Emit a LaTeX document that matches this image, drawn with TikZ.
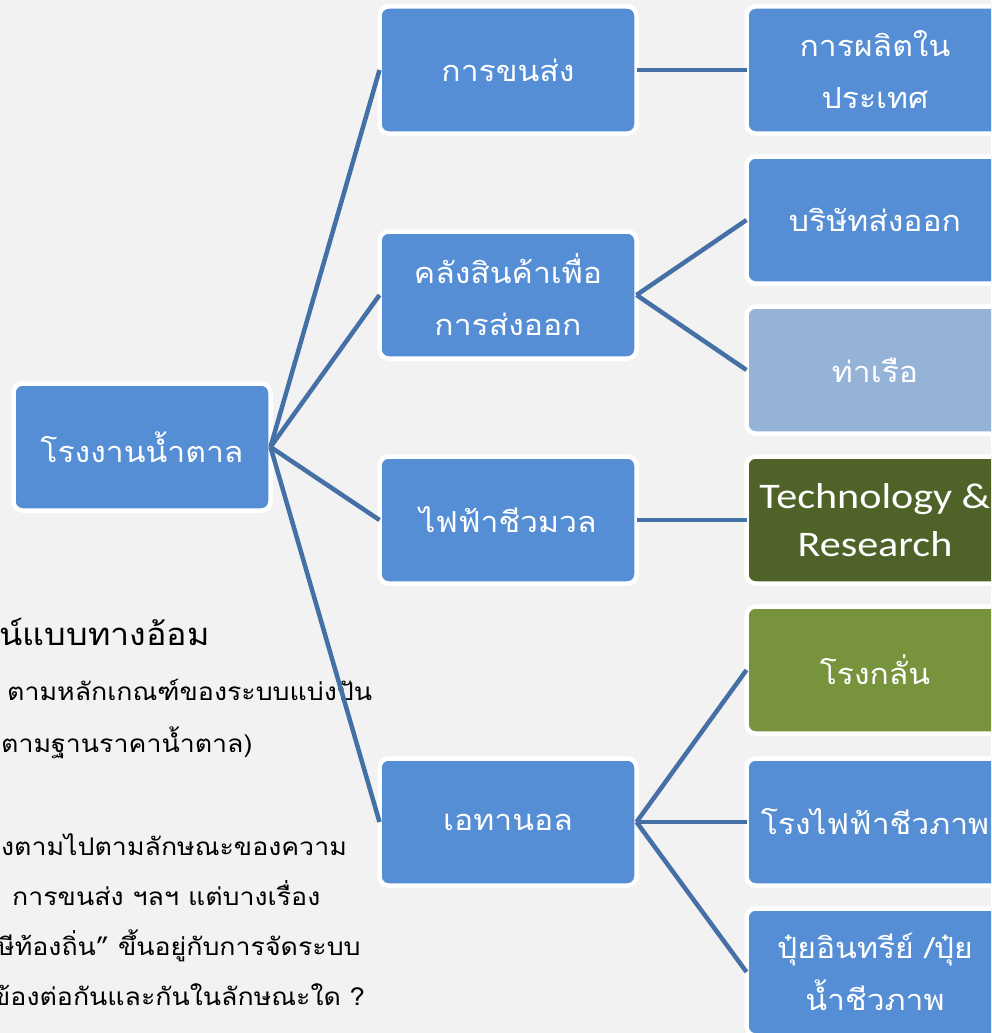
\documentclass[tikz,border=0pt]{standalone}
\usepackage{fontspec}
\setmainfont{Carlito}
\newfontfamily\thaifont[Script=Thai, FakeStretch=1.1]{Loma}
\newfontfamily\latinfont[FakeStretch=1.17]{Carlito}
\definecolor{fondo}{HTML}{F2F2F2}
\definecolor{azul}{HTML}{558ED5}
\definecolor{azulclaro}{HTML}{95B3D7}
\definecolor{verdeosc}{HTML}{4F6228}
\definecolor{oliva}{HTML}{77933C}
\definecolor{linea}{HTML}{4470A6}

\begin{document}
\begin{tikzpicture}[x=1pt, y=-1pt,
    bloc/.style={fill=azul, draw=white, line width=4.5pt,
        rounded corners=9pt,
        minimum width=257pt, minimum height=127pt,
        text=white, font=\thaifont\fontsize{29}{52}\selectfont, align=center,
        outer sep=0pt},
    nota/.style={text=black, anchor=base west, inner sep=0pt,
        font=\thaifont\fontsize{24.3}{30}\selectfont},
    rama/.style={draw=linea, line width=4.5pt}
    ]
    \useasboundingbox (0,0) rectangle (991,1033);
    \clip (0,0) rectangle (991,1033);
    \fill[fondo] (0,0) rectangle (991,1033);

    % texto de fondo
    \node[nota, anchor=base east, font=\thaifont\fontsize{31}{36}\selectfont] (t1) at (210,645) {น์แบบทางอ้อม};
    \node[nota] (t2) at (7,700) {ตามหลักเกณฑ์ของระบบแบ่งปัน};
    \node[nota] (t3) at (1,752) {ตามฐานราคาน้ำตาล)};
    \node[nota] (t4) at (1,855) {งตามไปตามลักษณะของความ};
    \node[nota] (t5) at (12,905) {การขนส่ง ฯลฯ แต่บางเรื่อง};
    \node[nota] (t6) at (-3,955) {ษีท้องถิ่น” ขึ้นอยู่กับการจัดระบบ};
    \node[nota] (t7) at (-8,1005) {ข้องต่อกันและกันในลักษณะใด ?};

    \node[bloc] (fabrica) at (142,447) {โรงงานน้ำตาล};

    \node[bloc] (transporte) at (508,70) {การขนส่ง};
    \node[bloc] (almacen) at (508,295) {คลังสินค้าเพื่อ\\การส่งออก};
    \node[bloc] (biomasa) at (508,520) {ไฟฟ้าชีวมวล};
    \node[bloc] (etanol) at (508,822) {เอทานอล};

    \node[bloc] (produccion) at (875,70) {การผลิตใน\\ประเทศ};
    \node[bloc] (exportadora) at (875,220) {บริษัทส่งออก};
    \node[bloc, fill=azulclaro] (puerto) at (875,370) {ท่าเรือ};
    \node[bloc, fill=verdeosc, font=\latinfont\fontsize{36}{48}\selectfont] (tecno) at (875,520) {Technology \&\\Research};
    \node[bloc, fill=oliva] (destileria) at (875,670) {โรงกลั่น};
    \node[bloc] (biogas) at (875,822) {โรงไฟฟ้าชีวภาพ};
    \node[bloc] (abono) at (875,972) {ปุ๋ยอินทรีย์ /ปุ๋ย\\น้ำชีวภาพ};

    \foreach \n in {transporte, almacen, biomasa, etanol}
        \draw[rama] (fabrica.east) -- (\n.west);
    \draw[rama] (transporte.east) -- (produccion.west);
    \draw[rama] (almacen.east) -- (exportadora.west);
    \draw[rama] (almacen.east) -- (puerto.west);
    \draw[rama] (biomasa.east) -- (tecno.west);
    \draw[rama] (etanol.east) -- (destileria.west);
    \draw[rama] (etanol.east) -- (biogas.west);
    \draw[rama] (etanol.east) -- (abono.west);
\end{tikzpicture}
\end{document}
